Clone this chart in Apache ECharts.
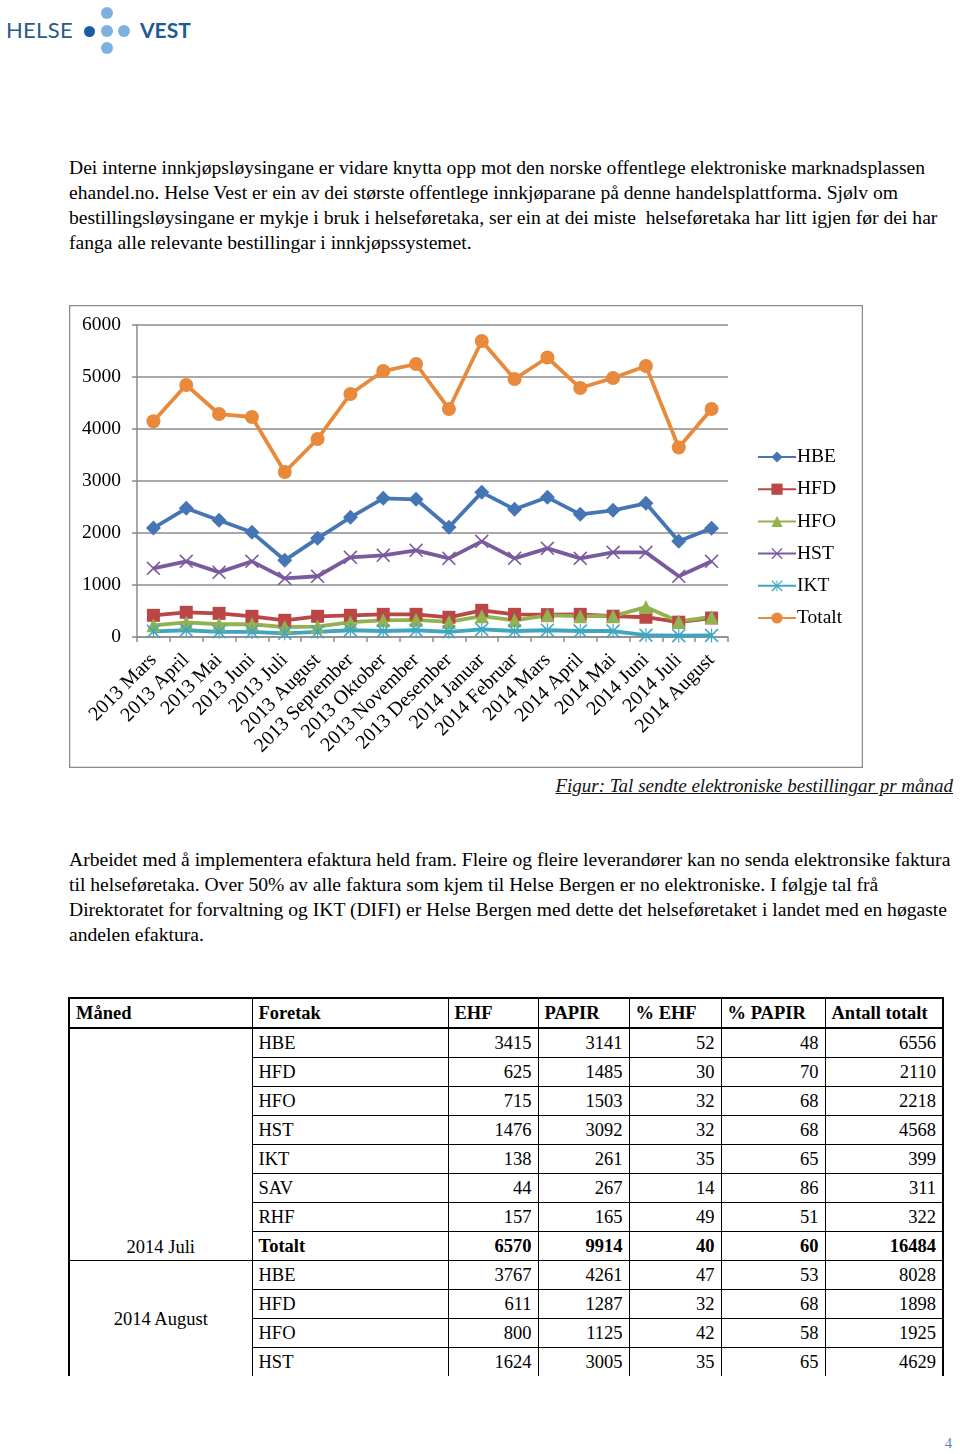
<!DOCTYPE html>
<html>
<head>
<meta charset="utf-8">
<script src="https://cdn.jsdelivr.net/npm/echarts@6.0.0/dist/echarts.min.js"></script>
<style>
  html, body { margin: 0; padding: 0; background: #fff; }
  body { position: relative; width: 960px; height: 1454px; overflow: hidden; font-family: "Liberation Serif", serif; color: #000; }
  .abs { position: absolute; }
  .line { position: absolute; left: 69px; white-space: nowrap; font-size: 19.6px; line-height: 25px; }
  .dot { position: absolute; width: 12px; height: 12px; border-radius: 50%; background: #7DB2E0; }
  table.t { position: absolute; left: 68px; top: 997px; border-collapse: collapse; font-size: 18.5px; table-layout: fixed; }
  table.t td { border: 1px solid #000; height: 28px; padding: 0 6px; line-height: 22px; white-space: nowrap; }
  table.t td.n { text-align: right; }
  table.t tr.h td { font-weight: bold; border-top: 2px solid #000; border-bottom: 2px solid #000; }
  table.t tr.b td { font-weight: bold; }
  table.t td.first { border-left: 2px solid #000; }
  table.t td.last { border-right: 2px solid #000; }
  table.t tr.end td { border-bottom: none; }
  table.t td.mj { vertical-align: bottom; text-align: center; border-left: 2px solid #000; padding-bottom: 2px; }
  table.t td.ma { vertical-align: middle; text-align: center; border-left: 2px solid #000; border-bottom: none; }
</style>
</head>
<body>
<!-- logo -->
<div class="abs" style="left:6px;top:15px;font-family:Lato,'Open Sans',sans-serif;font-weight:400;font-size:22px;line-height:30px;color:#2A5A88;letter-spacing:0.3px;">HELSE</div>
<div class="dot" style="left:84px;top:26px;background:#1B5CA3;width:11px;height:11px;"></div>
<div class="dot" style="left:101px;top:7px;"></div>
<div class="dot" style="left:101px;top:25px;"></div>
<div class="dot" style="left:118px;top:25px;"></div>
<div class="dot" style="left:101px;top:42px;"></div>
<div class="abs" style="left:140px;top:15px;font-family:Lato,'Open Sans',sans-serif;font-weight:bold;font-size:21px;line-height:30px;color:#1F5A96;">VEST</div>

<!-- paragraph 1 -->
<div class="line" style="top:155px;">Dei interne innkjøpsløysingane er vidare knytta opp mot den norske offentlege elektroniske marknadsplassen</div>
<div class="line" style="top:180px;">ehandel.no. Helse Vest er ein av dei største offentlege innkjøparane på denne handelsplattforma. Sjølv om</div>
<div class="line" style="top:205px;">bestillingsløysingane er mykje i bruk i helseføretaka, ser ein at dei miste&nbsp; helseføretaka har litt igjen før dei har</div>
<div class="line" style="top:230px;">fanga alle relevante bestillingar i innkjøpssystemet.</div>

<!-- chart -->
<div id="chart" class="abs" style="left:69px;top:305px;width:794px;height:463px;"></div>

<div class="abs" style="right:7px;top:773px;font-size:19px;line-height:25px;font-style:italic;text-decoration:underline;white-space:nowrap;color:#111;">Figur: Tal sendte elektroniske bestillingar pr månad</div>

<!-- paragraph 2 -->
<div class="line" style="top:847px;">Arbeidet med å implementera efaktura held fram. Fleire og fleire leverandører kan no senda elektronsike faktura</div>
<div class="line" style="top:872px;">til helseføretaka. Over 50% av alle faktura som kjem til Helse Bergen er no elektroniske. I følgje tal frå</div>
<div class="line" style="top:897px;">Direktoratet for forvaltning og IKT (DIFI) er Helse Bergen med dette det helseføretaket i landet med en høgaste</div>
<div class="line" style="top:922px;">andelen efaktura.</div>

<table class="t" id="tbl"></table>

<div class="abs" style="left:945px;top:1436px;font-size:14px;color:#4F81BD;">4</div>

<script>
// ---- chart data ----
var categories = ["2013 Mars","2013 April","2013 Mai","2013 Juni","2013 Juli","2013 August","2013 September","2013 Oktober","2013 November","2013 Desember","2014 Januar","2014 Februar","2014 Mars","2014 April","2014 Mai","2014 Juni","2014 Juli","2014 August"];
var HBE    = [2096, 2475, 2245, 2013, 1475, 1898, 2302, 2667, 2648, 2110, 2782, 2455, 2686, 2359, 2436, 2570, 1840, 2090];
var HFD    = [417, 475, 455, 398, 321, 398, 417, 436, 436, 379, 513, 436, 430, 436, 400, 380, 285, 365];
var HFO    = [225, 280, 245, 245, 190, 200, 285, 320, 330, 290, 400, 320, 417, 400, 400, 575, 300, 385];
var HST    = [1320, 1455, 1245, 1455, 1128, 1168, 1533, 1571, 1667, 1513, 1840, 1513, 1705, 1513, 1628, 1628, 1168, 1455];
var IKT    = [110, 130, 100, 100, 70, 100, 130, 115, 130, 100, 145, 115, 130, 115, 115, 35, 25, 30];
var Totalt = [4150, 4846, 4288, 4231, 3173, 3808, 4673, 5115, 5250, 4385, 5692, 4962, 5375, 4788, 4981, 5212, 3645, 4385];
var yTicks = [0, 1000, 2000, 3000, 4000, 5000, 6000];

// ---- table data ----
var tableHeader = ["Måned", "Foretak", "EHF", "PAPIR", "% EHF", "% PAPIR", "Antall totalt"];
var julyRows = [
  ["HBE", 3415, 3141, 52, 48, 6556],
  ["HFD", 625, 1485, 30, 70, 2110],
  ["HFO", 715, 1503, 32, 68, 2218],
  ["HST", 1476, 3092, 32, 68, 4568],
  ["IKT", 138, 261, 35, 65, 399],
  ["SAV", 44, 267, 14, 86, 311],
  ["RHF", 157, 165, 49, 51, 322],
  ["Totalt", 6570, 9914, 40, 60, 16484]
];
var augustRows = [
  ["HBE", 3767, 4261, 47, 53, 8028],
  ["HFD", 611, 1287, 32, 68, 1898],
  ["HFO", 800, 1125, 42, 58, 1925],
  ["HST", 1624, 3005, 35, 65, 4629]
];

// build table
(function () {
  var widths = [183, 196, 90, 91, 92, 104, 118];
  var t = document.getElementById('tbl');
  var cg = '<colgroup>' + widths.map(function (w) { return '<col style="width:' + w + 'px">'; }).join('') + '</colgroup>';
  var html = cg + '<tr class="h">' + tableHeader.map(function (h, i) {
    return '<td class="' + (i === 0 ? 'first' : '') + (i === 6 ? ' last' : '') + '">' + h + '</td>';
  }).join('') + '</tr>';
  function rowCells(r) {
    return '<td>' + r[0] + '</td>' + r.slice(1).map(function (v, i) {
      return '<td class="n' + (i === 4 ? ' last' : '') + '">' + v + '</td>';
    }).join('');
  }
  julyRows.forEach(function (r, i) {
    var cls = r[0] === 'Totalt' ? 'b' : '';
    html += '<tr class="' + cls + '">' + (i === 0 ? '<td class="mj" rowspan="' + julyRows.length + '" style="font-weight:normal">2014 Juli</td>' : '') + rowCells(r) + '</tr>';
  });
  augustRows.forEach(function (r, i) {
    var cls = i === augustRows.length - 1 ? 'end' : '';
    html += '<tr class="' + cls + '">' + (i === 0 ? '<td class="ma" rowspan="' + augustRows.length + '">2014 August</td>' : '') + rowCells(r) + '</tr>';
  });
  t.innerHTML = html;
})();

var crossPath = 'path://M0,1.6 L1.6,0 L10,8.4 L18.4,0 L20,1.6 L11.6,10 L20,18.4 L18.4,20 L10,11.6 L1.6,20 L0,18.4 L8.4,10 Z';
var starPath = 'path://M0,1.6 L1.6,0 L10,8.4 L18.4,0 L20,1.6 L11.6,10 L20,18.4 L18.4,20 L10,11.6 L1.6,20 L0,18.4 L8.4,10 Z M9.2,0 L10.8,0 L10.8,20 L9.2,20 Z';

function mk(name, data, color, symbol, size) {
  return {
    name: name, type: 'line', data: data,
    symbol: symbol, symbolSize: size, showAllSymbol: true,
    lineStyle: { color: color, width: 3.8 },
    itemStyle: { color: color, borderColor: color, borderWidth: 0 },
    emphasis: { disabled: true }
  };
}

var FONT = 'Liberation Serif';
var chart = echarts.init(document.getElementById('chart'), null, { renderer: 'canvas' });
chart.setOption({
  animation: false,
  backgroundColor: '#fff',
  graphic: [{
    type: 'rect', shape: { x: 0.5, y: 0.5, width: 793, height: 462 },
    style: { fill: 'none', stroke: '#8c8c8c', lineWidth: 1.5 }, silent: true, z: -1
  }],
  grid: { left: 68, right: 135, top: 20, bottom: 131, containLabel: false },
  legend: {
    orient: 'vertical', left: 683, top: 137,
    itemWidth: 38, itemHeight: 14, itemGap: 12.2,
    textStyle: { fontFamily: FONT, fontSize: 19.5, color: '#000', lineHeight: 19, padding: [0, 0, 0, -4] },
    data: ['HBE', 'HFD', 'HFO', 'HST', 'IKT', 'Totalt']
  },
  xAxis: {
    type: 'category', data: categories, boundaryGap: true,
    axisLine: { lineStyle: { color: '#8c8c8c', width: 1.5 } },
    axisTick: { show: true, length: 5, alignWithLabel: false, lineStyle: { color: '#8c8c8c', width: 1.5 } },
    axisLabel: { rotate: 45, margin: 20, interval: 0, fontFamily: FONT, fontSize: 20, color: '#000' },
    splitLine: { show: false }
  },
  yAxis: {
    type: 'value', min: yTicks[0], max: yTicks[yTicks.length - 1], interval: 1000,
    axisLine: { show: true, lineStyle: { color: '#8c8c8c', width: 1.5 } },
    axisTick: { show: true, length: 5, lineStyle: { color: '#8c8c8c', width: 1.5 } },
    axisLabel: { margin: 16, fontFamily: FONT, fontSize: 19.5, color: '#000', formatter: function (v) { return String(v); } },
    splitLine: { show: true, lineStyle: { color: '#8c8c8c', width: 1.5 } }
  },
  series: [
    mk('HBE', HBE, '#4575B5', 'diamond', 15),
    mk('HFD', HFD, '#BA4745', 'rect', 13),
    mk('HFO', HFO, '#91B24F', 'triangle', 14),
    mk('HST', HST, '#7A5A9F', crossPath, 14),
    mk('IKT', IKT, '#40A5C0', starPath, 14),
    mk('Totalt', Totalt, '#E8893B', 'circle', 14)
  ]
});
</script>
</body>
</html>
